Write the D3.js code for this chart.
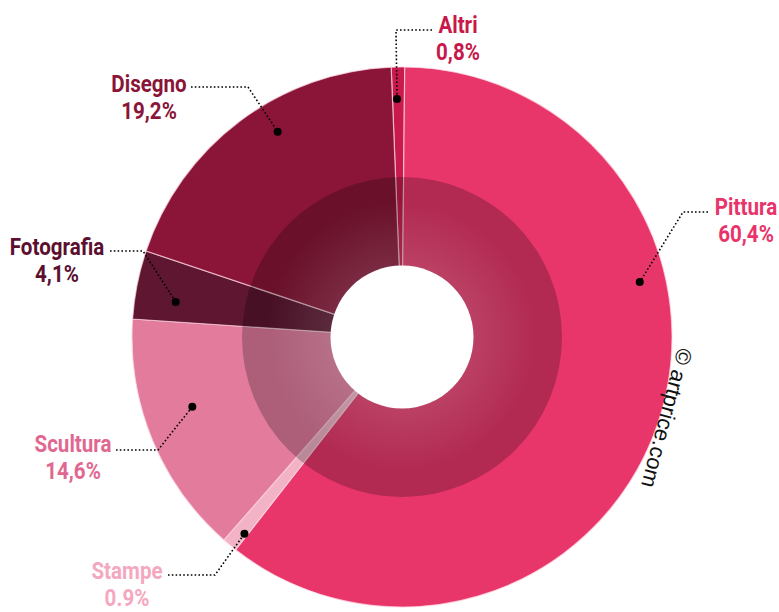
<!DOCTYPE html>
<html>
<head>
<meta charset="utf-8">
<script src="https://cdn.jsdelivr.net/npm/d3@7"></script>
<style>
  body { margin: 0; background: #fff; }
  svg { display: block; }
  .lbl { font-family: Roboto, "Open Sans", sans-serif; font-weight: bold; font-size: 24.5px; text-anchor: middle; }
</style>
</head>
<body>
<svg id="chart" width="779" height="612"></svg>
<script>
const categories = ["Altri", "Pittura", "Stampe", "Scultura", "Fotografia", "Disegno"];
const shares = [0.8, 60.4, 0.9, 14.6, 4.1, 19.2];
const shareLabels = ["0,8%", "60,4%", "0.9%", "14,6%", "4,1%", "19,2%"];

const width = 779, height = 612;
const cx = 402, cy = 337;
const outerR = 270, ringR = 160, holeR = 71.5;

const sliceColor = d3.scaleOrdinal()
  .domain(categories)
  .range(["#c81a4c", "#e8366a", "#f3b3c7", "#e27b9c", "#5e1631", "#8b1538"]);

const textColor = d3.scaleOrdinal()
  .domain(categories)
  .range(["#c8184a", "#e8346a", "#f4a8c0", "#e06890", "#5c0f2e", "#8a1538"]);

// where each label sits: text centre/baseline, leader start + elbow, dot (angle deg, radius)
const callout = {
  Altri:      { tx: 458, ty: 33,  ex: 396, ey: 30,  sx: 432, a: -1.2, r: 238, gap: 27 },
  Pittura:    { tx: 746, ty: 215, ex: 683, ey: 212, sx: 708, a: 77,   r: 244, gap: 27 },
  Stampe:     { tx: 127, ty: 579, ex: 215, ey: 575, sx: 168, a: 218.7, r: 252, gap: 27 },
  Scultura:   { tx: 73,  ty: 452, ex: 158, ey: 450, sx: 116, a: 251.6, r: 221, gap: 27 },
  Fotografia: { tx: 57,  ty: 255, ex: 143, ey: 251, sx: 110, a: 278.8, r: 229, gap: 27 },
  Disegno:    { tx: 149, ty: 92,  ex: 248, ey: 87,  sx: 191, a: 328.8, r: 240, gap: 27 }
};

const data = categories.map((c, i) => ({ cat: c, value: shares[i], label: shareLabels[i] }));

const startA = -2.3 * Math.PI / 180;
const pie = d3.pie()
  .sort(null)
  .value(d => d.value)
  .startAngle(startA)
  .endAngle(startA + 2 * Math.PI);

const arc = d3.arc().innerRadius(0).outerRadius(outerR);

const svg = d3.select("#chart");

const defs = svg.append("defs");
const glow = defs.append("radialGradient").attr("id", "glow")
  .attr("cx", cx).attr("cy", cy).attr("r", ringR)
  .attr("gradientUnits", "userSpaceOnUse");
glow.append("stop").attr("offset", holeR / ringR).attr("stop-color", "#fff").attr("stop-opacity", 0.11);
glow.append("stop").attr("offset", 0.85).attr("stop-color", "#fff").attr("stop-opacity", 0);

const g = svg.append("g").attr("transform", `translate(${cx},${cy})`);

g.selectAll("path.slice")
  .data(pie(data))
  .join("path")
  .attr("class", "slice")
  .attr("d", arc)
  .attr("fill", d => sliceColor(d.data.cat))
  .attr("stroke", "rgba(255,215,228,0.7)")
  .attr("stroke-width", 1.2);

// darker inner ring
g.append("circle").attr("r", ringR).attr("fill", "#000").attr("opacity", 0.23);
svg.append("circle").attr("cx", cx).attr("cy", cy).attr("r", ringR).attr("fill", "url(#glow)");
g.append("circle").attr("r", holeR).attr("fill", "#fff");

// callouts
const polar = (a, r) => [cx + r * Math.sin(a * Math.PI / 180), cy - r * Math.cos(a * Math.PI / 180)];

const ann = svg.append("g");
data.forEach(d => {
  const c = callout[d.cat];
  const [dx, dy] = polar(c.a, c.r);
  const pts = [[c.sx, c.ey], [c.ex, c.ey], [dx, dy]];
  ann.append("path")
    .attr("d", d3.line()(pts))
    .attr("fill", "none")
    .attr("stroke", "#000")
    .attr("stroke-width", 1.6)
    .attr("stroke-dasharray", "1.6,2.2");
  ann.append("circle").attr("cx", dx).attr("cy", dy).attr("r", 4).attr("fill", "#000");

  // condensed look: squeeze horizontally
  ann.append("text").attr("class", "lbl")
    .attr("transform", `translate(${c.tx},${c.ty}) scale(0.84,1)`)
    .attr("fill", textColor(d.cat))
    .text(d.cat);
  ann.append("text").attr("class", "lbl")
    .attr("transform", `translate(${c.tx},${c.ty + c.gap}) scale(0.84,1)`)
    .attr("fill", textColor(d.cat))
    .text(d.label);
});

svg.append("text")
  .attr("transform", "translate(678,347) rotate(105)")
  .attr("font-family", "Liberation Sans, Arial, sans-serif")
  .attr("font-size", 22)
  .attr("fill", "#111")
  .text("© artprice.com");
</script>
</body>
</html>
